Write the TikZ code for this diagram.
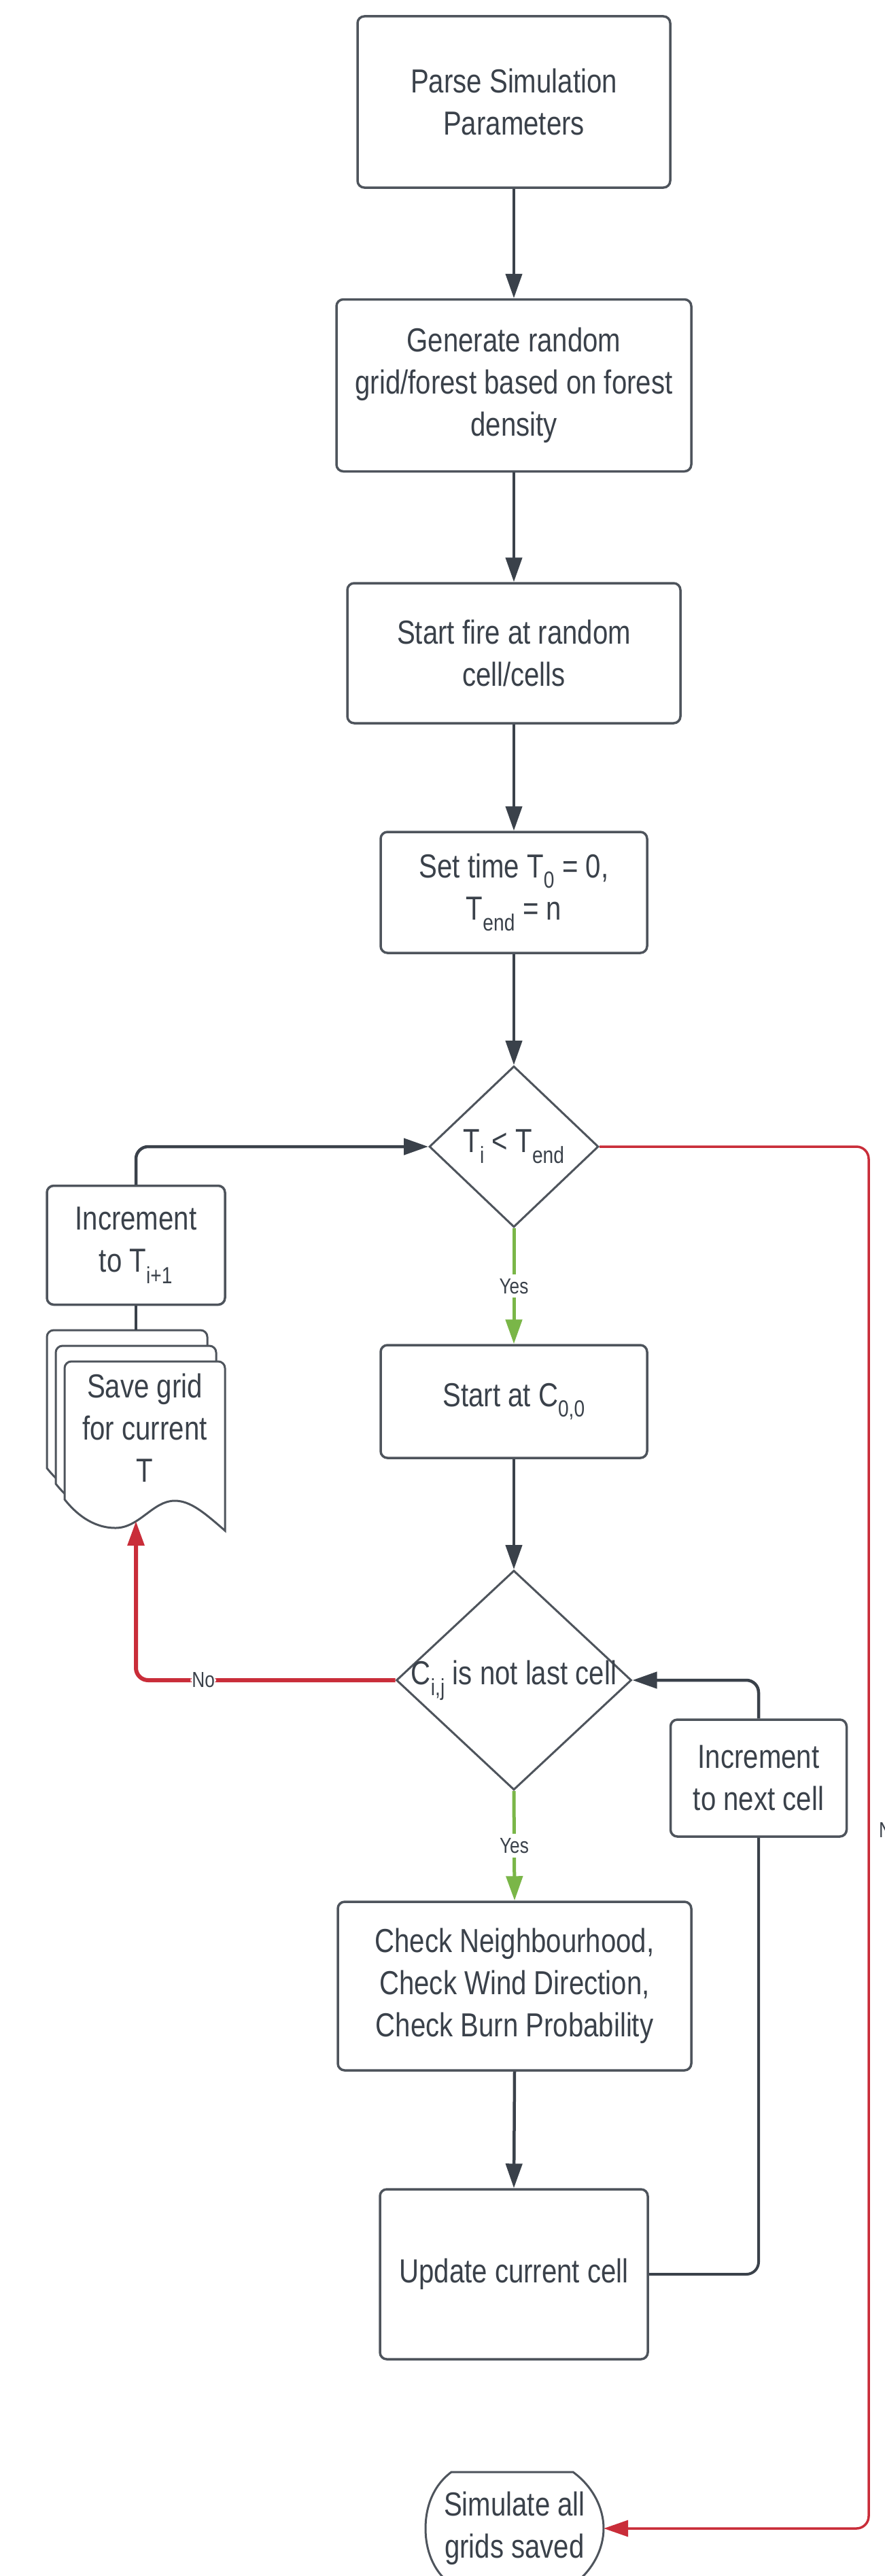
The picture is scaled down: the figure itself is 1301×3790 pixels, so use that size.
\documentclass[tikz,border=0pt]{standalone}
\usepackage{fontspec}
\setmainfont{Liberation Sans}[FakeStretch=0.82]
\usetikzlibrary{shapes.geometric,arrows.meta}
\definecolor{ln}{HTML}{3A414A}
\definecolor{bd}{HTML}{4E545C}
\definecolor{rd}{HTML}{C92D39}
\definecolor{gn}{HTML}{7AB648}
\definecolor{tx}{HTML}{3A414A}
\begin{document}
\begin{tikzpicture}[x=1pt,y=-1pt,
  proc/.style={draw=bd, line width=3.5pt, rounded corners=10pt, fill=white, text=tx,
    align=center, font=\fontsize{49}{62}\selectfont, inner sep=0pt},
  dia/.style={diamond, draw=bd, line width=3pt, fill=white, text=tx,
    font=\fontsize{49}{62}\selectfont, inner sep=0pt},
  txtnode/.style={text=tx, align=center, font=\fontsize{49}{62}\selectfont, inner sep=0pt},
  docline/.style={draw=bd, line width=3pt, fill=white},
  lab/.style={fill=white, text=tx, font=\fontsize{32}{38}\selectfont, inner sep=6pt},
  tipA/.style={-{Triangle[length=36pt,width=24pt]}},
  con/.style={draw=ln, line width=4.5pt, rounded corners=18pt, tipA},
  plain/.style={draw=ln, line width=4pt, rounded corners=18pt},
  gcon/.style={draw=gn, line width=5pt, tipA},
  rcon/.style={draw=rd, line width=3.5pt, rounded corners=18pt, tipA}
]
\useasboundingbox[fill=white] (0,0) rectangle (1301,3790);

% main column
\node[proc, minimum width=460pt, minimum height=252pt] (parse) at (756,150) {Parse Simulation\\Parameters};
\node[proc, minimum width=522pt, minimum height=253pt] (gen) at (756,567) {Generate random\\grid/forest based on forest\\density};
\node[proc, minimum width=490pt, minimum height=206pt] (fire) at (756,961) {Start fire at random\\cell/cells};
\node[proc, minimum width=392pt, minimum height=178pt] (settime) at (756,1313) {Set time T\textsubscript{0} = 0,\\T\textsubscript{end} = n};
\node[dia, minimum width=249pt, minimum height=237pt] (d1) at (756,1687) {\makebox[0pt]{T\textsubscript{i} < T\textsubscript{end}}};
\node[proc, minimum width=392pt, minimum height=166pt] (c00) at (756,2062) {Start at C\textsubscript{0,0}};
\node[dia, minimum width=346pt, minimum height=323pt] (d2) at (756,2472) {\makebox[0pt]{C\textsubscript{i,j} is not last cell}};
\node[proc, minimum width=520pt, minimum height=248pt] (check) at (757,2922) {Check Neighbourhood,\\Check Wind Direction,\\Check Burn Probability};
\node[proc, minimum width=394pt, minimum height=250pt] (upd) at (756,3346) {Update current cell};

% side boxes
\node[proc, minimum width=262pt, minimum height=175pt] (incT) at (200,1832) {Increment\\to T\textsubscript{i+1}};
\node[proc, minimum width=259pt, minimum height=172pt] (incC) at (1116,2616) {Increment\\to next cell};

% multi-document shape
\foreach \dx/\dy in {-26/-46, -13/-23, 0/0} {
  \begin{scope}[shift={(95+\dx,2003+\dy)}]
    \draw[docline] (0,150) [rounded corners=10pt]-- (0,0) -- (236,0) -- (236,150) [sharp corners]-- (236,249)
      .. controls (205,222) and (185,205) .. (162,205)
      .. controls (130,205) and (110,245) .. (75,245)
      .. controls (40,245) and (15,222) .. (0,203) -- cycle;
  \end{scope}
}
\node[txtnode] (save) at (213,2101) {Save grid\\for current\\T};
\coordinate (saveback) at (200,1957);
\coordinate (savewave) at (200,2238);

% terminal
\draw[docline] (664,3637) -- (843,3637) .. controls (872,3658) and (888,3690) .. (888,3720)
  .. controls (888,3750) and (872,3782) .. (843,3803) -- (664,3803)
  .. controls (636,3782) and (626,3750) .. (626,3720)
  .. controls (626,3690) and (636,3658) .. (664,3637) -- cycle;
\node[txtnode, minimum width=262pt, minimum height=166pt] (term) at (757,3720) {Simulate all\\grids saved};

% connectors
\draw[con] (parse.south) -- (gen.north);
\draw[con] (gen.south) -- (fire.north);
\draw[con] (fire.south) -- (settime.north);
\draw[con] (settime.south) -- (d1.north);
\draw[gcon] (d1.south) -- node[lab] {Yes} (c00.north);
\draw[con] (c00.south) -- (d2.north);
\draw[gcon] (d2.south) -- node[lab] {Yes} (check.north);
\draw[con] (check.south) -- (upd.north);
\draw[plain] (upd.east) -| (incC.south);
\draw[con] (incC.north) |- (d2.east);
\draw[con] (incT.north) |- (d1.west);
\draw[plain] (incT.south) -- (saveback);
\draw[rcon, line width=6pt] (d2.west) -| node[lab, pos=0.37, inner sep=2pt] {No} (savewave);
\coordinate (rx) at (1278,1687);
\draw[rcon] (d1.east) -| (rx |- term.east) -- (term.east);
\node[lab, fill=none, anchor=west, inner sep=0pt] (no2) at (1293,2693) {No};
\end{tikzpicture}
\end{document}
